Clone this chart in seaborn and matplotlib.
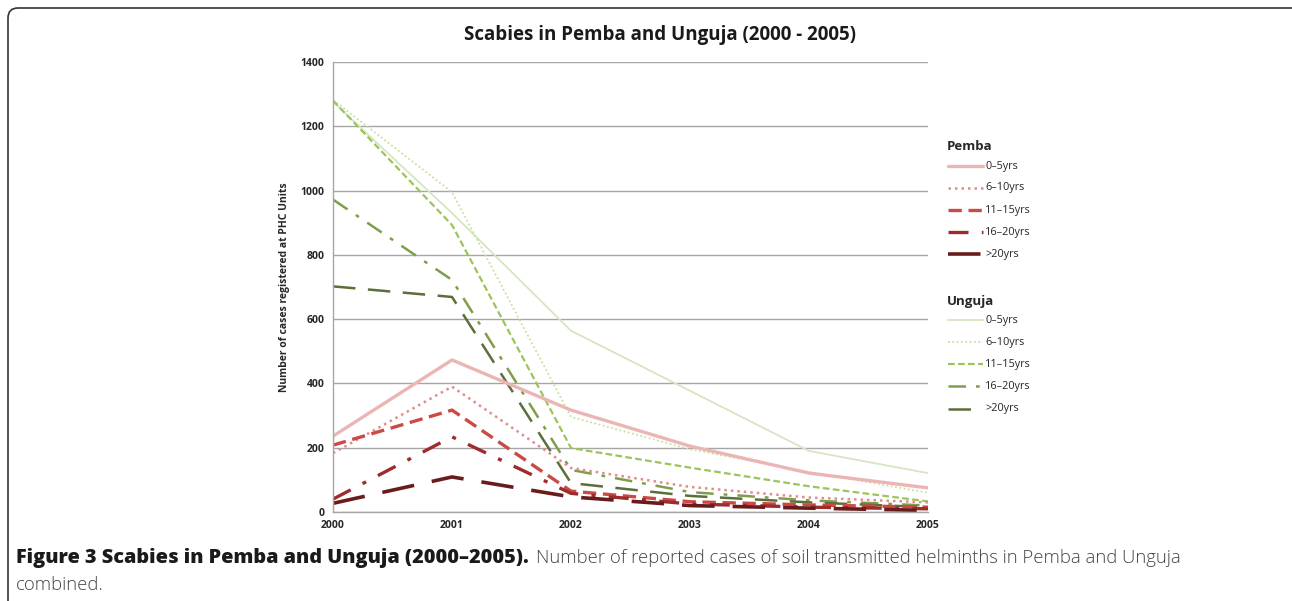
import matplotlib
matplotlib.use("Agg")
import matplotlib.pyplot as plt
import seaborn as sns
import pandas as pd
from matplotlib.patches import FancyBboxPatch
from matplotlib.lines import Line2D

years = [2000, 2001, 2002, 2003, 2004, 2005]
age_groups = ["0\u20135yrs", "6\u201310yrs", "11\u201315yrs", "16\u201320yrs", ">20yrs"]

pemba_0_5 = [236, 473, 317, 205, 121, 75]
pemba_6_10 = [183, 390, 137, 78, 45, 30]
pemba_11_15 = [208, 317, 65, 32, 22, 15]
pemba_16_20 = [40, 234, 58, 25, 15, 10]
pemba_20p = [27, 109, 47, 20, 12, 5]

unguja_0_5 = [1276, 930, 564, 377, 190, 121]
unguja_6_10 = [1282, 995, 296, 195, 125, 60]
unguja_11_15 = [1280, 893, 199, 138, 80, 33]
unguja_16_20 = [972, 722, 131, 62, 36, 20]
unguja_20p = [702, 669, 90, 50, 30, 15]

pemba = [pemba_0_5, pemba_6_10, pemba_11_15, pemba_16_20, pemba_20p]
unguja = [unguja_0_5, unguja_6_10, unguja_11_15, unguja_16_20, unguja_20p]

sns.set_theme(style="white")
plt.rcParams["font.family"] = ["Open Sans", "DejaVu Sans"]

fig = plt.figure(figsize=(12.92, 6.01), dpi=100)
ax = fig.add_axes([333/1292, 1-512/601, (928-333)/1292, (512-62)/601])

pemba_colors = ["#ebb5b5", "#e38c8c", "#cc4a45", "#9e2c2c", "#6a1c1c"]
unguja_colors = ["#d6e6c0", "#c8e09c", "#9cc45c", "#7f9e4a", "#5b6f3a"]
pemba_styles = ["-", (0, (1, 1.6)), (0, (4, 2)), (0, (6, 4, 1.2, 4)), (0, (9, 5))]
unguja_styles = ["-", (0, (1, 1.4)), (0, (3, 1.5)), (0, (7, 4, 1.5, 4)), (0, (9, 5))]
pemba_widths = [2.4, 1.8, 2.4, 2.4, 2.6]
unguja_widths = [1.3, 1.3, 1.6, 1.8, 1.8]

for vals, c, ls, lw in zip(unguja, unguja_colors, unguja_styles, unguja_widths):
    sns.lineplot(x=years, y=vals, ax=ax, color=c, linestyle=ls, linewidth=lw)
for vals, c, ls, lw in zip(pemba, pemba_colors, pemba_styles, pemba_widths):
    sns.lineplot(x=years, y=vals, ax=ax, color=c, linestyle=ls, linewidth=lw)

ax.set_xlim(2000, 2005)
ax.set_ylim(0, 1400)
ax.set_yticks(range(0, 1401, 200))
ax.set_xticks(years)
ax.set_xticklabels([str(y) for y in years], fontsize=7.5, fontweight="bold")
ax.set_yticklabels([str(v) for v in range(0, 1401, 200)], fontsize=7.5, fontweight="bold")
ax.tick_params(axis="both", length=0, pad=6)
ax.grid(axis="y", color="#a6a6a6", linewidth=1)
for s in ["top", "right"]:
    ax.spines[s].set_visible(False)
for s in ["left", "bottom"]:
    ax.spines[s].set_color("#a6a6a6")
    ax.spines[s].set_linewidth(1)
ax.set_ylabel("Number of cases registered at PHC Units", fontsize=7.5, fontweight="bold", labelpad=8)

fig.text(660/1292, 1-35/601, "Scabies in Pemba and Unguja (2000 - 2005)", ha="center", va="center",
         fontsize=13.5, fontweight="bold", color="#1a1a1a")

# legends
def legend_block(title, ytitle, ys, colors, styles, widths):
    fig.text(947/1292, 1-ytitle/601, title, fontsize=9.5, fontweight="bold", va="center", ha="left")
    for lab, y, c, ls, lw in zip(age_groups, ys, colors, styles, widths):
        ln = Line2D([948/1292, 983/1292], [1-y/601, 1-y/601], transform=fig.transFigure,
                    color=c, linestyle=ls, linewidth=lw)
        fig.add_artist(ln)
        fig.text(985/1292, 1-y/601, lab, fontsize=7.8, va="center", ha="left")

legend_block("Pemba", 147, [166, 188, 210, 232, 254], pemba_colors, pemba_styles, pemba_widths)
legend_block("Unguja", 301, [320, 342, 364, 386, 409], unguja_colors, unguja_styles, unguja_widths)

# caption
t1 = fig.text(16/1292, 1-558/601, "Figure 3 Scabies in Pemba and Unguja (2000\u20132005).", fontsize=14.3,
              fontweight="heavy", va="center", ha="left", color="#1a1a1a")
fig.canvas.draw()
bb = t1.get_window_extent()
fig.text((bb.x1 + 7)/1292, 1-558/601,
         "Number of reported cases of soil transmitted helminths in Pemba and Unguja",
         fontsize=13.3, va="center", ha="left", color="#444444", fontweight="light")
fig.text(16/1292, 1-585/601, "combined.", fontsize=13.3, va="center", ha="left", color="#444444",
         fontweight="light")

# border
box = FancyBboxPatch((8, -20), 1300, 20 + 593, boxstyle="round,pad=0,rounding_size=10",
                     transform=None, fill=False, edgecolor="#333333", linewidth=1.2)
fig.add_artist(box)

fig.savefig("out.png", dpi=100)
